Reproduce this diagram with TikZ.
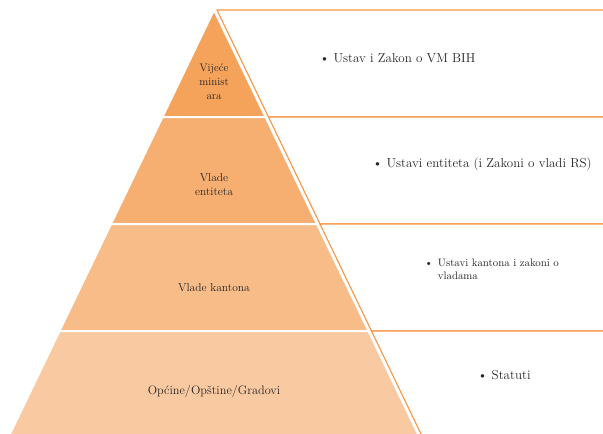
\documentclass[tikz,border=0pt]{standalone}
\usepackage{fontspec}
\usepackage{tikz}
\usetikzlibrary{positioning}
\definecolor{edgeorange}{HTML}{F79646}
\definecolor{tierA}{HTML}{F5A25B}
\definecolor{tierB}{HTML}{F6AF71}
\definecolor{tierC}{HTML}{F7BC88}
\definecolor{tierD}{HTML}{F9CAA2}
\begin{document}
\begin{tikzpicture}[x=1pt,y=-1pt,
        tier/.style={draw=white,line width=2pt},
        panel/.style={draw=edgeorange,line width=1.1pt,fill=white},
        lab/.style={align=center,text=black!85,font=\fontsize{11.5}{14}\selectfont},
        item/.style={anchor=west,text=black!85,font=\fontsize{13}{14}\selectfont}]
        \useasboundingbox (0,0) rectangle (603,434);
        \clip (0,0) rectangle (603,434);
        % panels right of the pyramid
        \draw[panel] (217,10) -- (620,10) -- (620,117) -- (268.5,117) -- cycle;
        \draw[panel] (268.5,117) -- (620,117) -- (620,224) -- (320,224) -- cycle;
        \draw[panel] (320,224) -- (620,224) -- (620,331) -- (371.5,331) -- cycle;
        \draw[panel] (371.5,331) -- (620,331) -- (620,460) -- (433.5,460) -- cycle;
        % pyramid
        \draw[tier,fill=tierA] (214,10) -- (265.5,117) -- (162.5,117) -- cycle;
        \draw[tier,fill=tierB] (162.5,117) -- (265.5,117) -- (317,224) -- (111,224) -- cycle;
        \draw[tier,fill=tierC] (111,224) -- (317,224) -- (368.5,331) -- (59.5,331) -- cycle;
        \draw[tier,fill=tierD] (59.5,331) -- (368.5,331) -- (430.5,460) -- (-2.5,460) -- cycle;
        % labels
        \node[lab,font=\fontsize{11}{14}\selectfont] (vm) at (214,82) {Vijeće\\minist\\ara};
        \node[lab] (entiteti) at (214,185) {Vlade\\entiteta};
        \node[lab] (kantoni) at (214,288) {Vlade kantona};
        \node[lab,font=\fontsize{12.3}{14}\selectfont] (opcine) at (214,391) {Općine/Opštine/Gradovi};
        \node[item] (zakonvm) at (316,58) {\textbullet\ Ustav i Zakon o VM BIH};
        \node[item] (ustavient) at (369,164) {\textbullet\ Ustavi entiteta (i Zakoni o vladi RS)};
        \node[item,font=\fontsize{10.8}{13}\selectfont] (ustavikan) at (421,270)
            {\begin{tabular}{@{}l@{\hspace{5pt}}l@{}}\textbullet & Ustavi kantona i zakoni o\\ & vladama\end{tabular}};
        \node[item] (statuti) at (474,375) {\textbullet\ Statuti};
\end{tikzpicture}
\end{document}
